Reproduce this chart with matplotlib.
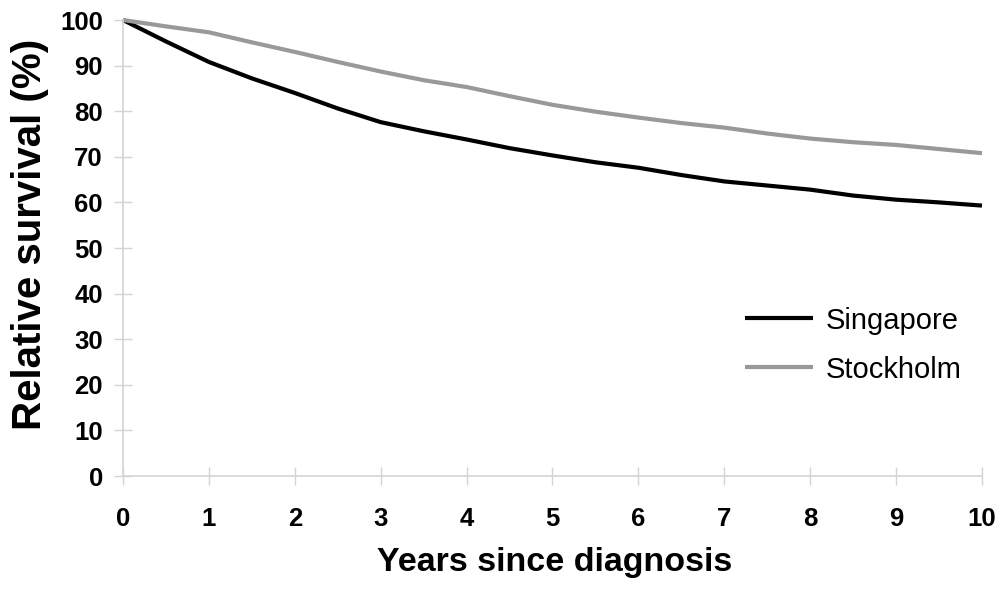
import matplotlib
matplotlib.use("Agg")
import matplotlib.pyplot as plt

plt.rcParams["font.family"] = ["Liberation Sans", "DejaVu Sans"]

years = [0, 0.5, 1, 1.5, 2, 2.5, 3, 3.5, 4, 4.5, 5, 5.5, 6, 6.5, 7, 7.5, 8, 8.5, 9, 9.5, 10]
singapore = [100, 95.3, 90.8, 87.2, 84.0, 80.6, 77.6, 75.6, 73.8, 71.9, 70.3,
             68.8, 67.6, 66.0, 64.6, 63.7, 62.8, 61.5, 60.6, 60.0, 59.3]
stockholm = [100, 98.6, 97.3, 95.1, 93.0, 90.8, 88.7, 86.8, 85.3, 83.3, 81.4,
             79.9, 78.6, 77.4, 76.4, 75.1, 74.0, 73.2, 72.6, 71.7, 70.8]

fig = plt.figure(figsize=(10.04, 5.93), dpi=100)
ax = fig.add_axes([123 / 1004, 1 - 476 / 593, (982 - 123) / 1004, (476 - 20) / 593])

ax.plot(years, singapore, color="black", linewidth=3, label="Singapore",
        solid_capstyle="butt", clip_on=False)
ax.plot(years, stockholm, color="#999999", linewidth=3, label="Stockholm",
        solid_capstyle="butt", clip_on=False)

ax.set_xlim(0, 10)
ax.set_ylim(0, 100)
ax.set_xticks(range(0, 11))
ax.set_yticks(range(0, 101, 10))

for side in ("top", "right"):
    ax.spines[side].set_visible(False)
for side in ("left", "bottom"):
    ax.spines[side].set_color("#d4d4d4")
    ax.spines[side].set_linewidth(1.2)

ax.tick_params(direction="inout", length=13, width=1.0, color="#d4d4d4",
               labelsize=18.5)
ax.tick_params(axis="x", pad=16)
ax.tick_params(axis="y", pad=8)
for lbl in ax.get_xticklabels() + ax.get_yticklabels():
    lbl.set_fontweight("bold")

ax.set_xlabel("Years since diagnosis", fontsize=24.5, fontweight="bold")
ax.set_ylabel("Relative survival (%)", fontsize=29, fontweight="bold")
ax.xaxis.set_label_coords(0.502, -0.155)
ax.yaxis.set_label_coords(-0.086, 0.53)

ax.legend(loc="center left", bbox_to_anchor=(0.71, 0.287), frameon=False,
          fontsize=21, handlelength=2.35, handletextpad=0.42, labelspacing=0.72,
          borderaxespad=0)

fig.savefig("out.png", dpi=100)
